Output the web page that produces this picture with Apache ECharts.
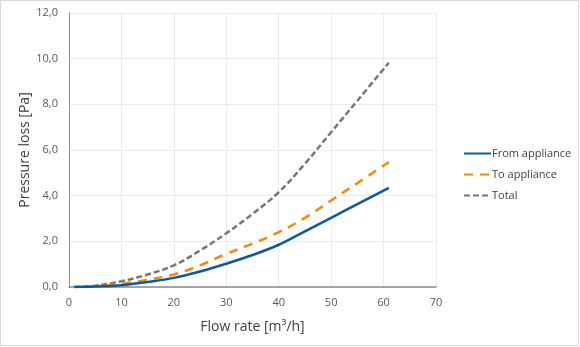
<!DOCTYPE html>
<html>
<head>
<meta charset="utf-8">
<script src="https://cdn.jsdelivr.net/npm/echarts@6/dist/echarts.min.js"></script>
<style>
  html, body { margin: 0; padding: 0; background: #fff; }
  #chart { width: 580px; height: 347px; }
</style>
</head>
<body>
<div id="chart"></div>
<script>
// flow rate [m3/h]
var flow = [1, 5, 10, 15, 20, 25, 30, 35, 40, 45, 50, 55, 61];
// pressure loss [Pa]
var fromAppliance = [0, 0.02, 0.08, 0.22, 0.40, 0.68, 1.02, 1.40, 1.85, 2.44, 3.03, 3.63, 4.34];
var toAppliance = [0, 0.04, 0.14, 0.32, 0.55, 0.95, 1.45, 1.90, 2.40, 3.03, 3.79, 4.55, 5.47];
var total = [0, 0.06, 0.25, 0.55, 0.95, 1.60, 2.35, 3.20, 4.15, 5.40, 6.78, 8.16, 9.82];
var seriesNames = ['From appliance', 'To appliance', 'Total'];

function pairs(ys) {
    return flow.map(function (x, i) { return [x, ys[i]]; });
}

var chart = echarts.init(document.getElementById('chart'));
var font = '"Open Sans", "Noto Sans", sans-serif';

var option = {
    backgroundColor: '#ffffff',
    animation: false,
    textStyle: { fontFamily: font },
    graphic: [{
        type: 'rect',
        shape: { x: 0.5, y: 0.5, width: 578, height: 345 },
        style: { fill: 'none', stroke: '#d9d9d9', lineWidth: 1 }
    }],
    grid: { left: 69, right: 144, top: 13, bottom: 60 },
    legend: {
        orient: 'vertical',
        left: 458,
        top: 143,
        itemWidth: 27,
        itemHeight: 12,
        itemGap: 10,
        itemStyle: { opacity: 0 },
        textStyle: { fontSize: 11, color: '#404040', fontFamily: font, padding: [0, 0, 0, -4] },
        data: seriesNames
    },
    xAxis: {
        type: 'value',
        min: 0, max: 70, interval: 10,
        name: 'Flow rate [m³/h]',
        nameLocation: 'middle',
        nameGap: 33,
        nameMoveOverlap: false,
        nameTextStyle: { fontSize: 14, color: '#404040', fontFamily: font },
        axisLine: { show: true, lineStyle: { color: '#8c8c8c', width: 1.5 } },
        axisTick: { show: false },
        axisLabel: { fontSize: 11, color: '#595959', margin: 10, fontFamily: font },
        splitLine: { show: true, lineStyle: { color: '#ebebeb' } }
    },
    yAxis: {
        type: 'value',
        min: 0, max: 12, interval: 2,
        name: 'Pressure loss [Pa]',
        nameLocation: 'middle',
        nameGap: 37,
        nameMoveOverlap: false,
        nameTextStyle: { fontSize: 14, color: '#404040', fontFamily: font },
        axisLine: { show: true, lineStyle: { color: '#8c8c8c', width: 1 } },
        axisTick: { show: false },
        axisLabel: {
            fontSize: 11, color: '#595959', margin: 11, fontFamily: font,
            formatter: function (v) { return v.toFixed(1).replace('.', ','); }
        },
        splitLine: { show: true, lineStyle: { color: '#ebebeb' } }
    },
    series: [{
        name: seriesNames[0],
        type: 'line',
        smooth: 0.4,
        symbol: 'none',
        data: pairs(fromAppliance),
        lineStyle: { color: '#0b5a9e', width: 2.5 },
        itemStyle: { color: '#0b5a9e' },
        z: 3
    }, {
        name: seriesNames[1],
        type: 'line',
        smooth: 0.4,
        symbol: 'none',
        data: pairs(toAppliance),
        lineStyle: { color: '#f5880f', width: 2.5, type: [9, 7] },
        itemStyle: { color: '#f5880f' },
        z: 2
    }, {
        name: seriesNames[2],
        type: 'line',
        smooth: 0.4,
        symbol: 'none',
        data: pairs(total),
        lineStyle: { color: '#767676', width: 2.5, type: [6, 3] },
        itemStyle: { color: '#767676' },
        z: 1
    }]
};

chart.setOption(option);
</script>
</body>
</html>
